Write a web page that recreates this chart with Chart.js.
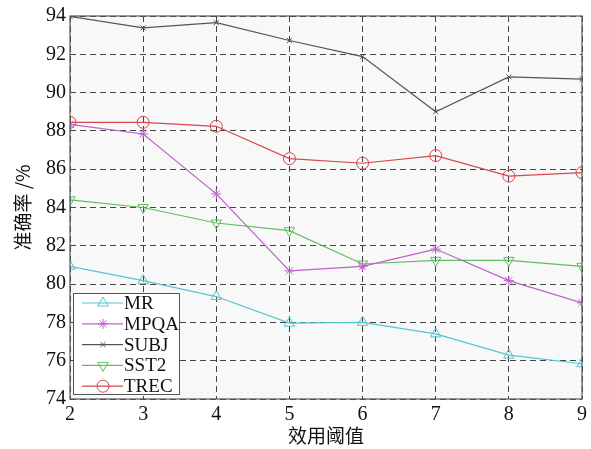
<!DOCTYPE html>
<html>
<head>
<meta charset="utf-8">
<script src="https://cdn.jsdelivr.net/npm/chart.js@4/dist/chart.umd.min.js"></script>
<style>
  html, body { margin: 0; padding: 0; background: #fff; }
  #wrap { width: 591px; height: 449px; position: relative; }
</style>
</head>
<body>
<div id="wrap"><canvas id="chart"></canvas></div>
<script>
// thresholds on the x axis
const thresholds = [2, 3, 4, 5, 6, 7, 8, 9];

// accuracy (%) per dataset
const mrValues   = [80.93, 80.18, 79.35, 77.96, 78.00, 77.40, 76.29, 75.84];
const mpqaValues = [88.34, 87.84, 84.71, 80.69, 80.93, 81.83, 80.18, 79.02];
const subjValues = [93.98, 93.38, 93.65, 92.72, 91.88, 89.00, 90.82, 90.70];
const sst2Values = [84.40, 84.00, 83.19, 82.79, 81.05, 81.24, 81.24, 80.93];
const trecValues = [88.45, 88.45, 88.24, 86.55, 86.31, 86.71, 85.64, 85.82];

const seriesNames = ['MR', 'MPQA', 'SUBJ', 'SST2', 'TREC'];
const yTicks = [74, 76, 78, 80, 82, 84, 86, 88, 90, 92, 94];

const SERIF = '"Liberation Serif", "DejaVu Serif", serif';
const CJK = '"Noto Sans CJK SC", sans-serif';

function makeSet(label, values, color, style, radius, rotation) {
  return {
    label,
    data: values.map((v, i) => ({ x: thresholds[i], y: v })),
    borderColor: color,
    backgroundColor: 'transparent',
    borderWidth: 1.2,
    pointStyle: style,
    pointRadius: radius,
    pointRotation: rotation || 0,
    pointBorderColor: color,
    pointBackgroundColor: 'transparent',
    pointBorderWidth: 1,
    tension: 0,
  };
}

const datasets = [
  makeSet(seriesNames[0], mrValues, '#55c6cd', 'triangle', 6),
  makeSet(seriesNames[1], mpqaValues, '#bb62c6', 'star', 5),
  makeSet(seriesNames[2], subjValues, '#555555', 'crossRot', 3.5),
  makeSet(seriesNames[3], sst2Values, '#5fbf60', 'triangle', 6, 180),
  makeSet(seriesNames[4], trecValues, '#d6474f', 'circle', 6),
];

// plot background + full frame
const framePlugin = {
  id: 'frame',
  beforeDraw(chart) {
    const { ctx, chartArea: a } = chart;
    ctx.save();
    ctx.fillStyle = '#f8f8f8';
    ctx.fillRect(a.left, a.top, a.right - a.left, a.bottom - a.top);
    ctx.restore();
  },
  afterDatasetsDraw(chart) {
    const { ctx, chartArea: a } = chart;
    ctx.save();
    ctx.strokeStyle = '#555';
    ctx.lineWidth = 1.2;
    ctx.strokeRect(a.left, a.top, a.right - a.left, a.bottom - a.top);
    ctx.restore();
  }
};

// boxed legend inside the lower-left corner
const boxLegend = {
  id: 'boxLegend',
  afterDraw(chart) {
    const { ctx, chartArea: a } = chart;
    const x0 = a.left + 3, y0 = 293, w = 106, h = 101;
    ctx.save();
    ctx.fillStyle = '#ffffff';
    ctx.fillRect(x0, y0, w, h);
    ctx.strokeStyle = '#555';
    ctx.lineWidth = 1;
    ctx.strokeRect(x0 + 0.5, y0 + 0.5, w, h);
    ctx.font = '19px ' + SERIF;
    ctx.textBaseline = 'middle';
    chart.data.datasets.forEach((ds, i) => {
      const y = 303 + i * 20.8;
      ctx.strokeStyle = ds.borderColor;
      ctx.lineWidth = 1.2;
      ctx.beginPath();
      ctx.moveTo(x0 + 9, y);
      ctx.lineTo(x0 + 50, y);
      ctx.stroke();
      ctx.lineWidth = 1;
      ctx.fillStyle = 'rgba(0,0,0,0)';
      Chart.helpers.drawPoint(ctx, {
        pointStyle: ds.pointStyle,
        radius: ds.pointRadius,
        rotation: ds.pointRotation,
        borderWidth: 1,
      }, x0 + 30, y);
      ctx.fillStyle = '#111';
      ctx.fillText(ds.label, x0 + 51, y + 1);
    });
    ctx.restore();
  }
};

new Chart(document.getElementById('chart'), {
  type: 'line',
  data: { datasets },
  options: {
    responsive: true,
    maintainAspectRatio: false,
    animation: false,
    layout: { padding: { top: 14, right: 2, left: 0, bottom: 0 } },
    plugins: {
      legend: { display: false },
      tooltip: { enabled: false },
    },
    scales: {
      x: {
        type: 'linear',
        min: 2,
        max: 9,
        afterFit: s => { s.height = 50; },
        afterBuildTicks: s => { s.ticks = thresholds.map(v => ({ value: v })); },
        ticks: { font: { family: SERIF, size: 20 }, color: '#111', padding: 4 },
        grid: { color: '#444', tickLength: 0, drawTicks: false },
        border: { display: false, dash: [6, 4] },
        title: {
          display: true,
          text: '效用阈值',
          font: { family: CJK, size: 19 },
          color: '#111',
          padding: { top: 0, bottom: 2 },
        },
      },
      y: {
        min: 74,
        max: 94,
        afterFit: s => { s.width = 70; },
        afterBuildTicks: s => { s.ticks = yTicks.map(v => ({ value: v })); },
        ticks: { font: { family: SERIF, size: 20 }, color: '#111', padding: 4 },
        grid: { color: '#444', tickLength: 0, drawTicks: false },
        border: { display: false, dash: [6, 4] },
        title: {
          display: true,
          text: '准确率 /%',
          font: { family: CJK, size: 19 },
          color: '#111',
          padding: { top: 11, bottom: 0 },
        },
      },
    },
  },
  plugins: [framePlugin, boxLegend],
});
</script>
</body>
</html>
